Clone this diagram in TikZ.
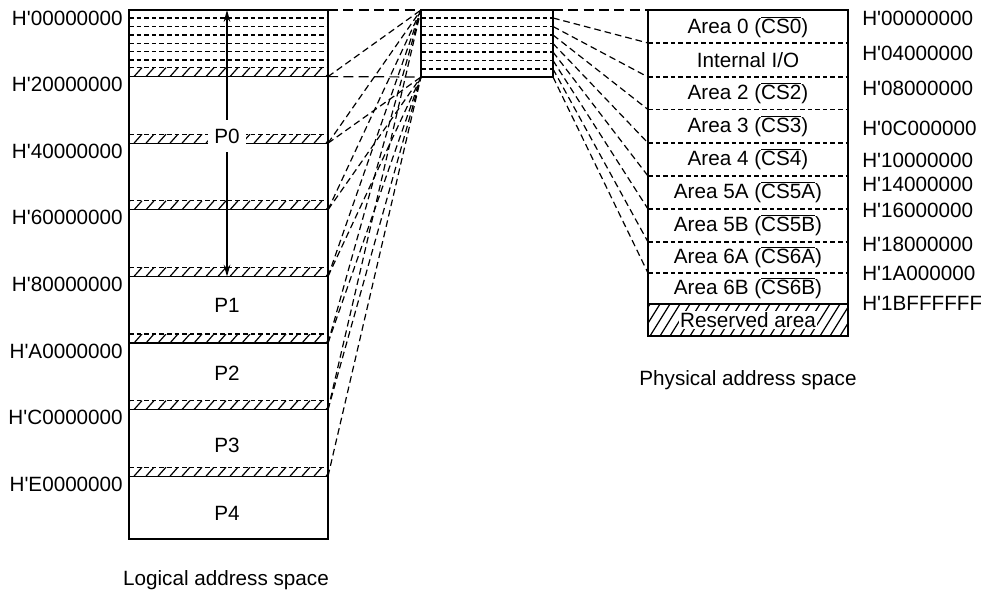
\documentclass[tikz,border=0pt]{standalone}
\usepackage{fontspec}
\setmainfont{Liberation Sans}
\usetikzlibrary{arrows.meta}
\newcommand\hx{H\textquotesingle}
\newcommand\ovl[1]{$\overline{\hbox{#1}}$}
\tikzset{
  bigbox/.style={draw,line width=1.6pt},
  midbox/.style={draw,line width=1pt},
  divline/.style={line width=0.9pt},
  subdash/.style={line width=0.9pt,dash pattern=on 3.5pt off 2.2pt},
  mapline/.style={line width=0.9pt,dash pattern=on 5pt off 3pt},
  longdash/.style={line width=0.9pt,dash pattern=on 7.5pt off 4pt},
}
\begin{document}
\begin{tikzpicture}[x=0.75pt,y=-0.75pt,
  every node/.style={font=\fontsize{15.5}{18}\selectfont},
  >={Stealth[length=9pt,width=5pt]}]
\useasboundingbox (0,0) rectangle (981,592);

% logical address space
\foreach \k in {0,...,7} \coordinate (L\k) at (328,{10+66.6*\k});
\foreach \y in {18,26.5,35,43.5,51.5,60}
  \draw[subdash] (129,\y) -- (328,\y);
\foreach \k in {1,...,7}{
  \begin{scope}
    \clip (129,{10+66.6*\k-9}) rectangle (328,{10+66.6*\k});
    \foreach \h in {122,134,...,340}
      \draw[divline] (\h,{10+66.6*\k}) -- ++(8,-9);
  \end{scope}
  \draw[subdash] (129,{10+66.6*\k-9}) -- (328,{10+66.6*\k-9});
  \draw[divline] (129,{10+66.6*\k}) -- (L\k);
}
\draw[bigbox] (129,10) rectangle (328,539);
\coordinate (atop) at (227,10);
\coordinate (abot) at (227,276.6);
\draw[divline,<->] (abot) -- (atop);
\node[fill=white,inner sep=0pt,minimum width=28.5pt,minimum height=24pt] (p0) at (227,136) {P0};
\node (p1) at (227,305) {P1};
\node (p2) at (227,373) {P2};
\node (p3) at (227,445) {P3};
\node (p4) at (227,513) {P4};
\foreach \lab [count=\k from 0] in {00000000,20000000,40000000,60000000,80000000,A0000000,C0000000,E0000000}
  \node[anchor=east,inner sep=0pt] (la\k) at (123,{18+66.6*\k}) {\hx\lab};
\node (lcap) at (226,580) {Logical address space};

% middle block
\coordinate (Mtl) at (421,10);
\coordinate (Mbl) at (421,77);
\foreach \y [count=\k from 0] in {10,18,26.5,35,43.5,52,60.5,69,77}
  \coordinate (R\k) at (553,\y);
\foreach \y in {18,26.5,35,43.5,52,60.5,69}
  \draw[subdash] (421,\y) -- (553,\y);
\draw[midbox] (Mtl) rectangle (R8);

% logical -> middle
\draw[longdash] (L0) -- (Mtl);
\draw[longdash] (L1) -- (Mbl);
\foreach \k in {1,...,6} \draw[mapline] (L\k) -- (Mtl);
\foreach \k in {2,...,7} \draw[mapline] (L\k) -- (Mbl);

% physical address space
\foreach \y [count=\k from 0] in {10,43,77,109.5,143,176,209,242,273}
  \coordinate (Q\k) at (648,\y);
\foreach \k in {1,...,8}
  \draw[subdash] (Q\k) -- ++(200,0);
\begin{scope}
  \clip (648,304) rectangle (848,336);
  \foreach \h in {630,640,...,850}
    \draw[divline] (\h,336) -- ++(20,-32);
\end{scope}
\draw[divline] (648,304) -- (848,304);
\draw[bigbox] (648,10) rectangle (848,336);
\node (ar0) at (748,27) {Area 0 (\ovl{CS0})};
\node (ar1) at (748,60) {Internal I/O};
\node (ar2) at (748,93) {Area 2 (\ovl{CS2})};
\node (ar3) at (748,126.5) {Area 3 (\ovl{CS3})};
\node (ar4) at (748,159.5) {Area 4 (\ovl{CS4})};
\node (ar5a) at (748,192.5) {Area 5A (\ovl{CS5A})};
\node (ar5b) at (748,225.5) {Area 5B (\ovl{CS5B})};
\node (ar6a) at (748,257.5) {Area 6A (\ovl{CS6A})};
\node (ar6b) at (748,288.5) {Area 6B (\ovl{CS6B})};
\node[fill=white,inner sep=1pt] (res) at (748,320) {Reserved area};
\foreach \lab/\y [count=\k from 0] in {00000000/18,04000000/53,08000000/88,0C000000/128,10000000/160,14000000/184,16000000/210,18000000/244,1A000000/273,1BFFFFFF/303}
  \node[anchor=west,inner sep=0pt] (pa\k) at (862,\y) {\hx\lab};
\node (pcap) at (748,380) {Physical address space};

% middle -> physical
\draw[longdash] (R0) -- (Q0);
\foreach \k in {1,...,8} \draw[mapline] (R\k) -- (Q\k);
\end{tikzpicture}
\end{document}
